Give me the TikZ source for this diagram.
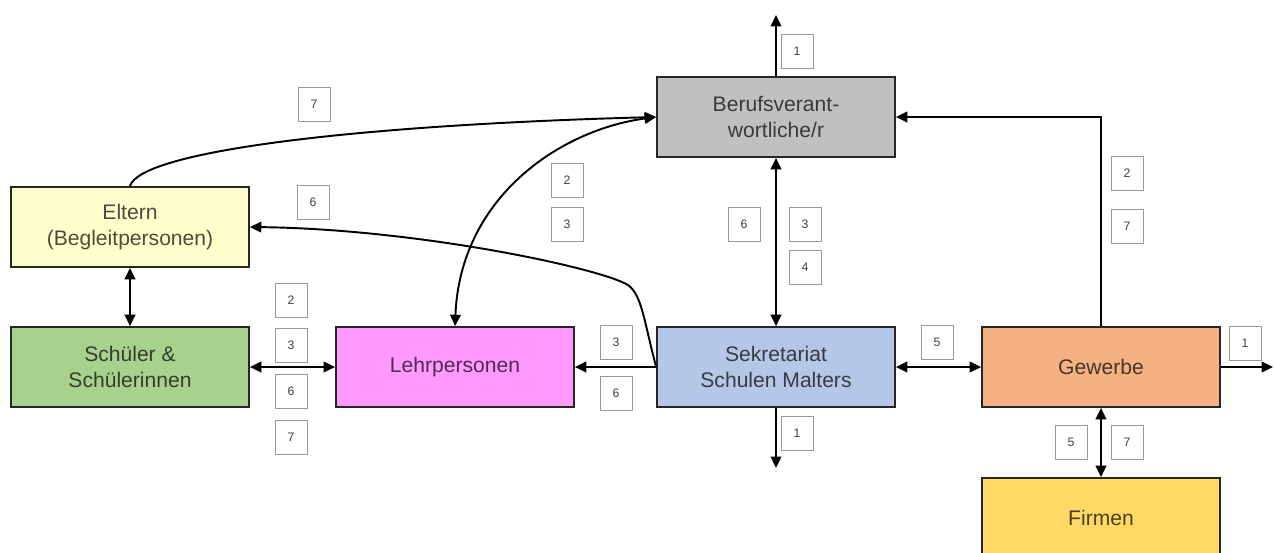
\documentclass[tikz,border=0pt]{standalone}
\usepackage{fontspec}
\setmainfont{Liberation Sans}
\usetikzlibrary{arrows.meta}

\definecolor{berufcol}{HTML}{C0C0C0}
\definecolor{elterncol}{HTML}{FFFFCC}
\definecolor{schuelercol}{HTML}{A9D18E}
\definecolor{lehrcol}{HTML}{FF99FF}
\definecolor{sekcol}{HTML}{B4C7E7}
\definecolor{gewcol}{HTML}{F4B183}
\definecolor{firmcol}{HTML}{FFD966}

\begin{document}
\begin{tikzpicture}[x=0.02cm,y=-0.02cm,
  >={Triangle[length=6.5pt,width=6pt]},
  box/.style={draw=black!85,line width=1pt,minimum width=4.76cm,minimum height=1.6cm,
    inner sep=0pt,align=center,font=\fontsize{12}{14.5}\selectfont,
    fill=#1,text=#1!30!black},
  tag/.style={draw=black!40,line width=0.5pt,fill=white,minimum width=0.64cm,
    minimum height=0.68cm,inner sep=0pt,font=\fontsize{7}{8}\selectfont,text=black!75},
  link/.style={line width=1.1pt}]
  \clip (0,0) rectangle (1274,552);
  \fill[white] (0,0) rectangle (1274,552);

  \node[box=berufcol] (beruf) at (776,117) {Berufsverant-\\wortliche/r};
  \node[box=elterncol] (eltern) at (130,227) {Eltern\\(Begleitpersonen)};
  \node[box=schuelercol] (schueler) at (130,367) {Schüler \&\\Schülerinnen};
  \node[box=lehrcol] (lehr) at (455,367) {Lehrpersonen};
  \node[box=sekcol] (sek) at (776,367) {Sekretariat\\Schulen Malters};
  \node[box=gewcol] (gewerbe) at (1101,367) {Gewerbe};
  \node[box=firmcol] (firmen) at (1101,518) {Firmen};

  \coordinate (beruf out) at (776,15);
  \coordinate (sek out) at (776,468);
  \coordinate (gew out) at (1273,367);
  \coordinate (sek bend) at (628,285);

  \draw[link,->] (beruf.north) -- (beruf out);
  \draw[link,->] (eltern.north) .. controls +(10,-35) and +(-300,8) .. (beruf.west);
  \draw[link,<->] (lehr.north) .. controls +(5,-128) and +(-97,13) .. (beruf.west);
  \draw[link,->] (gewerbe.north) |- (beruf.east);
  \draw[link,<->] (beruf.south) -- (sek.north);
  \draw[link,->] (sek.west) -- (lehr.east);
  \draw[link,->] (sek.west) .. controls +(-12,-45) and +(14,10) .. (sek bend)
    .. controls +(-28,-17) and +(168,2) .. (eltern.east);
  \draw[link,<->] (sek.east) -- (gewerbe.west);
  \draw[link,->] (sek.south) -- (sek out);
  \draw[link,->] (gewerbe.east) -- (gew out);
  \draw[link,<->] (gewerbe.south) -- (firmen.north);
  \draw[link,<->] (eltern.south) -- (schueler.north);
  \draw[link,<->] (schueler.east) -- (lehr.west);

  % nummern
  \node[tag] (ta1) at (797,51) {1};
  \node[tag] (tb7) at (314,104) {7};
  \node[tag] (tb6) at (313,202) {6};
  \node[tag] (tc2) at (567,180) {2};
  \node[tag] (tc3) at (567,224) {3};
  \node[tag] (td6) at (744,224) {6};
  \node[tag] (td3) at (805,224) {3};
  \node[tag] (td4) at (805,267) {4};
  \node[tag] (te2) at (1127,173) {2};
  \node[tag] (te7) at (1127,226) {7};
  \foreach \n/\y in {2/300,3/345,6/391,7/437}
    \node[tag] (tf\n) at (291,\y) {\n};
  \node[tag] (tg3) at (616,342) {3};
  \node[tag] (tg6) at (616,393) {6};
  \node[tag] (th5) at (937,342) {5};
  \node[tag] (ti1) at (1245,343) {1};
  \node[tag] (tj1) at (797,433) {1};
  \node[tag] (tk5) at (1071,442) {5};
  \node[tag] (tk7) at (1127,442) {7};
\end{tikzpicture}
\end{document}
